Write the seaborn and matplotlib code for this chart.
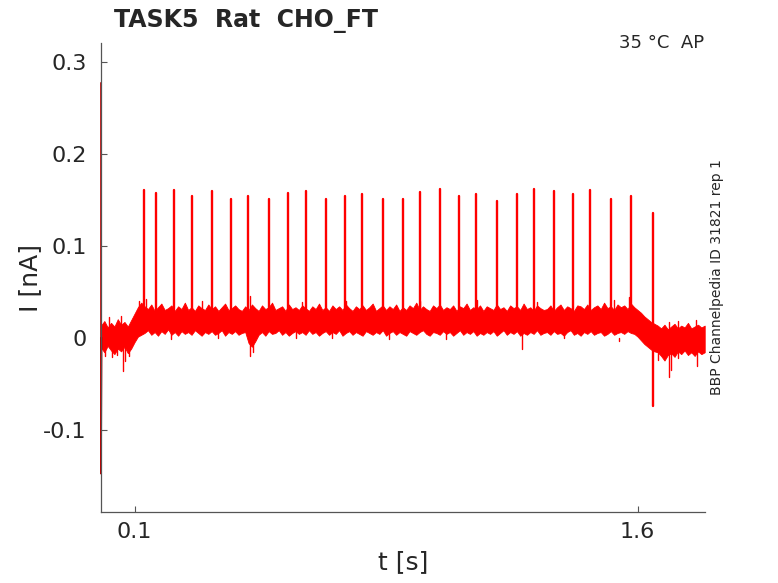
import numpy as np
import pandas as pd
import seaborn as sns
import matplotlib
matplotlib.use('Agg')
import matplotlib.pyplot as plt

# noisy baseline envelope (t in s, upper / lower edge in nA)
band_t = [0.00, 0.01, 0.02, 0.03, 0.04, 0.05, 0.06, 0.07, 0.08, 0.09,
          0.10, 0.11, 0.12, 0.13, 0.14, 0.15, 0.16, 0.17, 0.18, 0.19,
          0.20, 0.21, 0.22, 0.23, 0.24, 0.25, 0.26, 0.27, 0.28, 0.29,
          0.30, 0.31, 0.32, 0.33, 0.34, 0.35, 0.36, 0.37, 0.38, 0.39,
          0.40, 0.41, 0.42, 0.43, 0.44, 0.45, 0.46, 0.47, 0.48, 0.49,
          0.50, 0.51, 0.52, 0.53, 0.54, 0.55, 0.56, 0.57, 0.58, 0.59,
          0.60, 0.61, 0.62, 0.63, 0.64, 0.65, 0.66, 0.67, 0.68, 0.69,
          0.70, 0.71, 0.72, 0.73, 0.74, 0.75, 0.76, 0.77, 0.78, 0.79,
          0.80, 0.81, 0.82, 0.83, 0.84, 0.85, 0.86, 0.87, 0.88, 0.89,
          0.90, 0.91, 0.92, 0.93, 0.94, 0.95, 0.96, 0.97, 0.98, 0.99,
          1.00, 1.01, 1.02, 1.03, 1.04, 1.05, 1.06, 1.07, 1.08, 1.09,
          1.10, 1.11, 1.12, 1.13, 1.14, 1.15, 1.16, 1.17, 1.18, 1.19,
          1.20, 1.21, 1.22, 1.23, 1.24, 1.25, 1.26, 1.27, 1.28, 1.29,
          1.30, 1.31, 1.32, 1.33, 1.34, 1.35, 1.36, 1.37, 1.38, 1.39,
          1.40, 1.41, 1.42, 1.43, 1.44, 1.45, 1.46, 1.47, 1.48, 1.49,
          1.50, 1.51, 1.52, 1.53, 1.54, 1.55, 1.56, 1.57, 1.58, 1.59,
          1.60, 1.61, 1.62, 1.63, 1.64, 1.65, 1.66, 1.67, 1.68, 1.69,
          1.70, 1.71, 1.72, 1.73, 1.74, 1.75, 1.76, 1.77, 1.78, 1.79, 1.80]
band_hi = [0.013, 0.018, 0.011, 0.016, 0.012, 0.020, 0.014, 0.017, 0.012, 0.019,
           0.026, 0.033, 0.038,
           0.034, 0.031, 0.036, 0.029, 0.033, 0.037, 0.030, 0.032, 0.035, 0.029,
           0.034, 0.031, 0.038, 0.030, 0.033, 0.029, 0.035, 0.032, 0.030, 0.036,
           0.031, 0.034, 0.029, 0.033, 0.037, 0.030, 0.032, 0.035, 0.031, 0.029,
           0.034, 0.030, 0.036, 0.032, 0.029, 0.035, 0.031, 0.033, 0.038, 0.030,
           0.032, 0.034, 0.029, 0.036, 0.031, 0.033, 0.030, 0.035, 0.032, 0.029,
           0.034, 0.031, 0.037, 0.030, 0.033, 0.029, 0.035, 0.031, 0.034, 0.030,
           0.036, 0.032, 0.029, 0.034, 0.031, 0.035, 0.030, 0.033, 0.037, 0.029,
           0.032, 0.035, 0.030, 0.034, 0.031, 0.036, 0.029, 0.033, 0.030, 0.035,
           0.032, 0.038, 0.030, 0.034, 0.031, 0.029, 0.035, 0.032, 0.036, 0.030,
           0.033, 0.031, 0.035, 0.029, 0.034, 0.032, 0.037, 0.030, 0.033, 0.031,
           0.035, 0.029, 0.034, 0.032, 0.030, 0.036, 0.031, 0.033, 0.029, 0.035,
           0.032, 0.034, 0.030, 0.037, 0.031, 0.033, 0.029, 0.035, 0.032, 0.030,
           0.031, 0.035, 0.029, 0.033, 0.036, 0.030, 0.034, 0.032, 0.029, 0.035,
           0.034, 0.031, 0.036, 0.030, 0.033, 0.035, 0.031, 0.038, 0.032, 0.034,
           0.030, 0.036, 0.033, 0.035, 0.031, 0.037,
           0.033, 0.030, 0.027, 0.023, 0.020, 0.017, 0.015,
           0.013, 0.010, 0.014, 0.009, 0.012, 0.015, 0.010, 0.013, 0.011, 0.016,
           0.010, 0.012, 0.014, 0.011, 0.013]
band_lo = [-0.011, -0.016, -0.009, -0.014, -0.018, -0.012, -0.015, -0.010, -0.017, -0.012,
           -0.005, 0.001, 0.003,
           0.005, 0.008, 0.003, 0.006, 0.002, 0.007, 0.004, 0.009, 0.003, 0.006,
           0.002, 0.007, 0.004, 0.006, 0.003, 0.008, 0.005, 0.002, 0.006, 0.004,
           0.007, 0.003, 0.005, 0.008, 0.002, 0.006, 0.004, 0.007, 0.003, 0.005,
           0.006, -0.006, -0.010, -0.004, 0.003, 0.006, 0.002, 0.007, 0.004, 0.005,
           0.008, 0.003, 0.006, 0.002, 0.005, 0.007, 0.004, 0.006, 0.003, 0.008,
           0.004, 0.006, 0.002, 0.005, 0.007, 0.003, 0.006, 0.004, 0.008, 0.002,
           0.005, 0.007, 0.003, 0.006, 0.004, 0.002, 0.007, 0.005, 0.003, 0.006,
           0.004, 0.008, 0.002, 0.005, 0.007, 0.003, 0.006, 0.004, 0.002, 0.007,
           0.005, 0.003, 0.006, 0.008, 0.004, 0.002, 0.006, 0.005, 0.003, 0.007,
           0.004, 0.006, 0.002, 0.005, 0.008, 0.003, 0.006, 0.004, 0.007, 0.002,
           0.005, 0.003, 0.006, 0.004, 0.007, 0.002, 0.005, 0.008, 0.003, 0.006,
           0.004, 0.007, 0.002, 0.005, 0.003, 0.006, 0.004, 0.008, 0.003, 0.005,
           0.006, 0.003, 0.007, 0.004, 0.005, 0.002, 0.006, 0.008, 0.003, 0.005,
           0.002, 0.006, 0.004, 0.007, 0.003, 0.005, 0.006, 0.002, 0.004, 0.007,
           0.003, 0.005, 0.006, 0.004, 0.007, 0.005,
           0.004, 0.001, -0.003, -0.007, -0.010, -0.013, -0.015,
           -0.016, -0.020, -0.025, -0.019, -0.017, -0.021, -0.015, -0.018, -0.014, -0.019,
           -0.016, -0.020, -0.015, -0.018, -0.016]

# action potentials: time, peak, lowest point
spike_t = [0.128, 0.163, 0.219, 0.270, 0.331, 0.387, 0.438, 0.500, 0.559, 0.610,
           0.670, 0.727, 0.778, 0.840, 0.899, 0.950, 1.011, 1.068, 1.118, 1.180,
           1.239, 1.290, 1.351, 1.407, 1.458, 1.520, 1.579, 1.645]
spike_peak = [0.160, 0.157, 0.160, 0.154, 0.159, 0.151, 0.154, 0.151, 0.157, 0.159,
              0.151, 0.154, 0.156, 0.151, 0.151, 0.158, 0.162, 0.154, 0.156, 0.148,
              0.156, 0.162, 0.159, 0.156, 0.160, 0.151, 0.154, 0.136]
spike_low = [0.020] * 27 + [-0.074]

# single noise excursions out of the band
blip_t = [0.012, 0.033, 0.048, 0.065, 0.073, 0.085, 0.210, 0.350, 0.444, 0.452,
          0.580, 0.690, 0.860, 1.030, 1.255, 1.380, 1.545, 1.660, 1.693, 1.699,
          1.720, 1.777, 0.025, 0.060, 0.114, 0.135, 0.300, 0.445, 0.600, 0.730,
          0.950, 1.120, 1.300, 1.530, 1.575, 1.695, 1.720, 1.775]
blip_v = [-0.020, -0.021, -0.019, -0.036, -0.025, -0.020, -0.002, 0.000, -0.020, -0.016,
          -0.001, -0.001, -0.002, -0.002, -0.012, -0.001, -0.004, -0.024, -0.043, -0.035,
          -0.022, -0.031, 0.022, 0.024, 0.040, 0.042, 0.040, 0.045, 0.039, 0.040,
          0.040, 0.041, 0.039, 0.041, 0.044, 0.017, 0.018, 0.019]
blip_base = [0.0] * 6 + [0.018] * 10 + [0.0] * 6 + [0.0, 0.0] + [0.018] * 11 + [0.0] * 3

# stimulus onset artefact at t = 0
art_t = [0.0, 0.0, 0.002]
art_v = [0.277, -0.148, 0.0]

sns.set_theme(style='ticks')
plt.rcParams['font.family'] = ['DejaVu Sans']
plt.rcParams['axes.unicode_minus'] = False

fig = plt.figure(figsize=(7.78, 5.83), dpi=100)
ax = fig.add_axes([0.1298, 0.1213, 0.7760, 0.8044])

band = pd.DataFrame({'t': band_t + band_t, 'I': band_hi + band_lo})
sns.lineplot(data=band, x='t', y='I', errorbar=('pi', 100), color='#ff0000',
             linewidth=0.8, err_kws={'alpha': 1, 'linewidth': 0.6}, ax=ax)

n = len(spike_t)
spikes = pd.DataFrame({'t': spike_t + spike_t, 'I': spike_low + spike_peak,
                       'id': list(range(n)) * 2})
sns.lineplot(data=spikes, x='t', y='I', units='id', estimator=None,
             color='#ff0000', linewidth=1.7, ax=ax)

m = len(blip_t)
blips = pd.DataFrame({'t': blip_t + blip_t, 'I': blip_base + blip_v,
                      'id': list(range(m)) * 2})
sns.lineplot(data=blips, x='t', y='I', units='id', estimator=None,
             color='#ff0000', linewidth=1.0, ax=ax)

art = ax.plot(art_t, art_v, color='#c00000', linewidth=1.2)
art[0].set_clip_on(False)

ax.set_xlim(0, 1.8)
ax.set_ylim(-0.19, 0.32)
ax.set_xticks([0.1, 1.6])
ax.set_xticklabels(['0.1', '1.6'])
ax.set_yticks([-0.1, 0, 0.1, 0.2, 0.3])
ax.set_yticklabels(['-0.1', '0', '0.1', '0.2', '0.3'])
ax.tick_params(direction='in', length=4.5, width=0.8, colors='#555555',
               labelcolor='#262626', labelsize=16)
ax.tick_params(axis='x', pad=7)
ax.tick_params(axis='y', pad=10.5)
for s in ['top', 'right']:
    ax.spines[s].set_visible(False)
for s in ['left', 'bottom']:
    ax.spines[s].set_color('#555555')
    ax.spines[s].set_linewidth(0.9)

ax.set_xlabel('t [s]', fontsize=18, color='#262626', labelpad=6)
ax.set_ylabel('I [nA]', fontsize=18, color='#262626', labelpad=0.5)

fig.text(0.1465, 0.9537, 'TASK5  Rat  CHO_FT', fontsize=17, fontweight='bold',
         ha='left', va='baseline')
fig.text(0.905, 0.9177, '35 °C  AP', fontsize=13, ha='right', va='baseline')
fig.text(0.9215, 0.524, 'BBP Channelpedia ID 31821 rep 1', fontsize=10,
         rotation=90, ha='center', va='center')

fig.savefig('out.png', dpi=100)
